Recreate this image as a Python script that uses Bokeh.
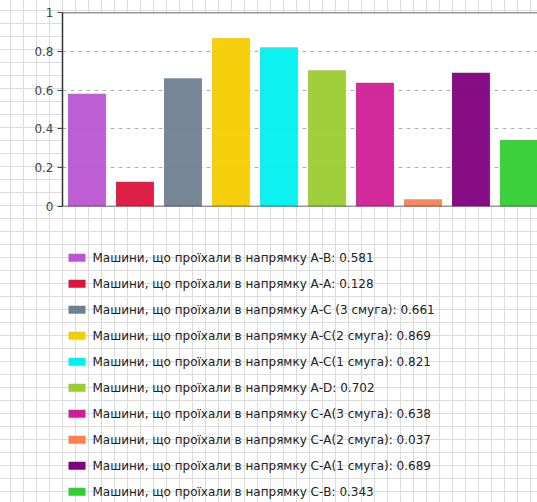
from bokeh.plotting import figure
from bokeh.layouts import column
from bokeh.models import (ColumnDataSource, Range1d, FixedTicker, NumeralTickFormatter,
                          Span, InlineStyleSheet)
from bokeh.core.properties import value
from bokeh.embed import file_html
from bokeh.resources import INLINE

# Traffic shares by direction
directions = ["А-В", "А-А", "А-С (3 смуга)", "А-С(2 смуга)", "А-С(1 смуга)",
              "А-D", "С-А(3 смуга)", "С-А(2 смуга)", "С-А(1 смуга)", "С-В"]
shares = [0.581, 0.128, 0.661, 0.869, 0.821, 0.702, 0.638, 0.037, 0.689, 0.343]
colors = ["#BA55D3", "#DC143C", "#708090", "#F5CC00", "#00F0F0",
          "#9ACD32", "#D01F95", "#FF7F50", "#800080", "#32CD32"]
y_ticks = [0, 0.2, 0.4, 0.6, 0.8, 1]

labels = [f"Машини, що проїхали в напрямку {d}: {v:g}" for d, v in zip(directions, shares)]
n = len(shares)

# ---- bar chart ----
source = ColumnDataSource(dict(x=list(range(n)), top=shares, color=colors))

p = figure(width=537, height=222, output_backend="svg", toolbar_location=None,
           x_range=Range1d(-0.51, 9.386), y_range=Range1d(0, 1),
           min_border_left=62, min_border_top=12, min_border_right=0, min_border_bottom=16)
p.border_fill_alpha = 0
p.background_fill_color = "white"
p.outline_line_color = None

p.vbar(x="x", top="top", width=0.79, color="color", line_color=None,
       fill_alpha=0.95, source=source)

p.xaxis.visible = False
p.xgrid.visible = False

p.yaxis.ticker = FixedTicker(ticks=y_ticks)
p.yaxis.formatter = NumeralTickFormatter(format="0.[0]")
p.yaxis.axis_line_color = "#333333"
p.yaxis.axis_line_width = 1.5
p.yaxis.major_tick_line_color = "#444444"
p.yaxis.major_tick_out = 5
p.yaxis.major_tick_in = 0
p.yaxis.minor_tick_line_color = None
p.yaxis.major_label_text_font = "DejaVu Sans"
p.yaxis.major_label_text_font_size = "12px"
p.yaxis.major_label_text_color = "#444444"
p.yaxis.major_label_standoff = 4

p.ygrid.grid_line_color = "#b0b0b0"
p.ygrid.grid_line_dash = "4 4"
p.ygrid.grid_line_width = 1

p.add_layout(Span(location=1, dimension="width", line_color="#333333", line_width=1.5))
p.add_layout(Span(location=0, dimension="width", line_color="#333333", line_width=1.5))

# ---- legend block ----
# The column aligns this frame with the chart frame above (page x 62..537),
# so x is expressed in page pixels; y in pixels from the block top, downward.
row_first, row_pitch = 35.3, 26
leg = ColumnDataSource(dict(
    y=[row_first + i * row_pitch for i in range(n)],
    color=colors,
    label=labels,
))

lg = figure(width=537, height=280, output_backend="svg", toolbar_location=None,
            x_range=Range1d(62, 537), y_range=Range1d(280, 0),
            x_axis_location=None, y_axis_location=None,
            min_border=0, min_border_left=0, min_border_right=0,
            min_border_top=0, min_border_bottom=0)
lg.border_fill_alpha = 0
lg.background_fill_alpha = 0
lg.outline_line_color = None
lg.grid.visible = False

lg.rect(x=76.5, y="y", width=17, height=8, width_units="screen", height_units="screen",
        fill_color="color", line_color=None, source=leg)
lg.text(x=92, y="y", text="label", text_font=value("DejaVu Sans"), text_font_size="12px",
        text_color="#222222", text_baseline="middle", text_align="left", source=leg)

layout = column(p, lg, spacing=0)

# graph-paper page background
layout.stylesheets = [InlineStyleSheet(css="""
:host {
  background-color: #ffffff;
  background-image:
    linear-gradient(to right, #dcdcdc 1px, transparent 1px),
    linear-gradient(to bottom, #dcdcdc 1px, transparent 1px);
  background-size: 13px 13px;
  background-position: 10px 10px;
}
""")]

open("out.html", "w").write(file_html(layout, INLINE))
